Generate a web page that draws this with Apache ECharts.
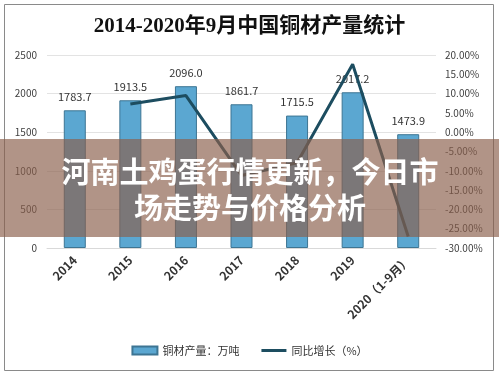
<!DOCTYPE html>
<html lang="zh">
<head>
  <meta charset="UTF-8">
  <title>2014-2020年9月中国铜材产量统计</title>
  <script src="https://cdnjs.cloudflare.com/ajax/libs/echarts/6.0.0/echarts.min.js"></script>
</head>
<body>
  <style>
    html, body, #chart {
      width: 100%;
      height: 100%;
      margin: 0;
      padding: 0;
      background: #fff;
    }
  </style>
  <div id="chart"></div>
  <script>
    const years = ['2014', '2015', '2016', '2017', '2018', '2019', '2020（1-9月）']
    const output = [1783.7, 1913.5, 2096.0, 1861.7, 1715.5, 2017.2, 1473.9]
    const growth = [null, 7.3, 9.5, -11.2, -7.9, 17.6, -27.0]

    const font = '"Microsoft YaHei", "Noto Sans CJK SC", sans-serif'
    const chart = echarts.init(document.getElementById('chart'))

    chart.setOption({
      animation: false,
      title: {
        text: '2014-2020年9月中国铜材产量统计',
        left: 'center',
        top: 11,
        textStyle: {
          fontFamily: '"Liberation Serif", "Noto Sans CJK SC", serif',
          fontSize: 21,
          fontWeight: 'bold',
          color: '#111'
        }
      },
      legend: {
        bottom: 16,
        itemGap: 22,
        itemWidth: 25,
        itemHeight: 8,
        textStyle: { fontFamily: font, fontSize: 11, color: '#333' },
        data: [
          { name: '铜材产量：万吨', icon: 'rect' },
          { name: '同比增长（%）', icon: 'path://M0,0L25,0L25,3L0,3Z' }
        ]
      },
      grid: { left: 47, right: 63, top: 55, bottom: 129 },
      xAxis: {
        type: 'category',
        data: years,
        axisTick: { show: false },
        axisLine: { lineStyle: { color: '#d9d9d9' } },
        axisLabel: {
          rotate: 45,
          interval: 0,
          margin: 10,
          fontFamily: font,
          fontSize: 12,
          fontWeight: 'bold',
          color: '#333'
        }
      },
      yAxis: [
        {
          type: 'value',
          min: 0,
          max: 2500,
          interval: 500,
          axisLine: { show: false },
          axisTick: { show: false },
          splitLine: { lineStyle: { color: '#e3e3e3' } },
          axisLabel: {
            fontFamily: font,
            fontSize: 10,
            color: '#404040',
            margin: 10,
            formatter: v => String(v)
          }
        },
        {
          type: 'value',
          min: -30,
          max: 20,
          interval: 5,
          axisLine: { show: false },
          axisTick: { show: false },
          splitLine: { show: false },
          axisLabel: {
            fontFamily: font,
            fontSize: 10,
            color: '#404040',
            margin: 9,
            formatter: v => v.toFixed(2) + '%'
          }
        }
      ],
      series: [
        {
          name: '铜材产量：万吨',
          type: 'bar',
          data: output,
          barWidth: 22,
          itemStyle: { color: '#5ba7d1', borderColor: '#3d7593', borderWidth: 1 },
          label: {
            show: true,
            position: 'top',
            distance: 8,
            fontFamily: font,
            fontSize: 11,
            color: '#333',
            formatter: p => p.value.toFixed(1)
          }
        },
        {
          name: '同比增长（%）',
          type: 'line',
          yAxisIndex: 1,
          data: growth,
          symbol: 'none',
          lineStyle: { color: '#1d4d60', width: 3 },
          itemStyle: { color: '#1d4d60' }
        }
      ],
      graphic: [
        {
          type: 'rect',
          shape: { x: 4.5, y: 4.5, width: 489, height: 366 },
          style: { fill: 'none', stroke: '#8a8a8a', lineWidth: 1 },
          z: 100
        },
        {
          type: 'rect',
          shape: { x: 0, y: 139, width: 499, height: 98 },
          style: { fill: 'rgba(138,96,76,0.67)' },
          z: 100
        },
        {
          type: 'text',
          x: 250,
          y: 172,
          z: 101,
          style: {
            text: '河南土鸡蛋行情更新，今日市',
            textAlign: 'center',
            textVerticalAlign: 'middle',
            fill: '#fff',
            font: 'bold 29px "Noto Sans CJK SC", sans-serif'
          }
        },
        {
          type: 'text',
          x: 250,
          y: 208,
          z: 101,
          style: {
            text: '场走势与价格分析',
            textAlign: 'center',
            textVerticalAlign: 'middle',
            fill: '#fff',
            font: 'bold 29px "Noto Sans CJK SC", sans-serif'
          }
        }
      ]
    })
  </script>
</body>
</html>
